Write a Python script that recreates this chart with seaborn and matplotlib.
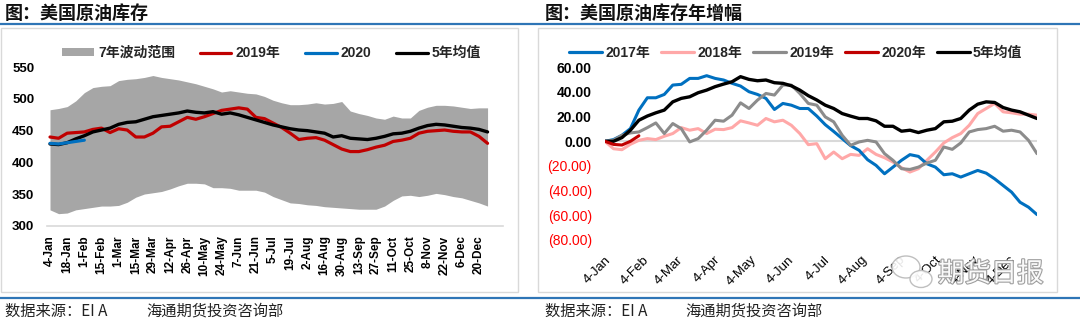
import numpy as np
import pandas as pd
import matplotlib
matplotlib.use("Agg")
import matplotlib.pyplot as plt
import matplotlib.transforms as mtransforms
import matplotlib.patheffects as pe
from matplotlib.patches import Patch, Rectangle, Ellipse
from matplotlib.lines import Line2D
import seaborn as sns

# ---------------- data: left chart (US crude inventory, weekly) ----------------
left_tick_labels = ["4-Jan", "18-Jan", "1-Feb", "15-Feb", "1-Mar", "15-Mar", "29-Mar",
                    "12-Apr", "26-Apr", "10-May", "24-May", "7-Jun", "21-Jun", "5-Jul",
                    "19-Jul", "2-Aug", "16-Aug", "30-Aug", "13-Sep", "27-Sep", "11-Oct",
                    "25-Oct", "8-Nov", "22-Nov", "6-Dec", "20-Dec"]
left_yticks = [300, 350, 400, 450, 500, 550]

band_upper = [483, 485, 488, 497, 510, 518, 520, 521, 529, 531,
              532, 534, 537, 534, 532, 530, 527, 524, 520, 516,
              511, 513, 511, 509, 508, 504, 498, 494, 491, 491,
              492, 494, 492, 493, 496, 481, 477, 474, 470, 468,
              473, 470, 470, 482, 487, 490, 490, 489, 487, 485,
              486, 486]
band_lower = [325, 319, 320, 325, 327, 329, 331, 331, 332, 337,
              345, 350, 352, 354, 358, 363, 367, 367, 366, 360,
              360, 359, 356, 356, 356, 353, 346, 341, 336, 335,
              333, 332, 330, 329, 328, 327, 326, 326, 326, 331,
              340, 347, 348, 346, 348, 351, 349, 346, 344, 340,
              336, 331]
inv_2019 = [440, 438, 446, 447, 448, 452, 454, 447, 453, 451,
            440, 440, 446, 456, 457, 464, 471, 468, 472, 477,
            482, 484, 486, 484, 471, 469, 462, 455, 446, 436,
            438, 439, 435, 428, 421, 417, 417, 420, 424, 427,
            433, 435, 438, 446, 449, 450, 451, 449, 448, 448,
            441, 430]
inv_2020 = [430, 429, 431, 433, 435]
inv_5yr = [429, 428, 431, 437, 442, 448, 451, 454, 460, 463,
           464, 468, 472, 474, 476, 478, 481, 479, 478, 480,
           476, 478, 475, 471, 467, 463, 459, 456, 453, 451,
           450, 448, 446, 440, 442, 438, 437, 436, 438, 441,
           445, 446, 449, 454, 458, 460, 459, 457, 455, 454,
           452, 448]

# ---------------- data: right chart (YoY change of inventory) ----------------
right_tick_labels = ["4-Jan", "4-Feb", "4-Mar", "4-Apr", "4-May", "4-Jun",
                     "4-Jul", "4-Aug", "4-Sep", "4-Oct", "4-Nov", "4-Dec"]
right_tick_days = [0, 31, 59, 90, 120, 151, 181, 212, 243, 273, 304, 334]
right_yticks = [-80, -60, -40, -20, 0, 20, 40, 60]

chg_2017 = [0, 1.4, 4.9, 10.3, 25.3, 35.3, 35.3, 38, 45.6, 46.2,
            51, 51, 53.2, 51, 49.7, 47, 44.8, 40.2, 38, 34.8,
            25.8, 30.7, 29.3, 26.6, 26.6, 20.5, 13.5, 8, 2.2, -3.5,
            -7.3, -14.9, -19.5, -26.3, -20.9, -15.4, -10.8, -12.2, -18.2, -20.9,
            -27.1, -26.3, -29, -26.3, -23.6, -25.8, -30.4, -35.8, -41.2, -49.4,
            -53.4, -59.4]
chg_2018 = [0, -6, -6.8, -2.4, 0.8, 2.2, 1.4, 4.1, 6.3, 11.1,
            9, 10.3, 6.3, 9.8, 9.5, 11.1, 16.6, 14.9, 13, 18.5,
            15.8, 17.1, 13, 6.3, -2.7, -1.9, -14.1, -8.7, -14.1, -10.6,
            -11.4, -6, -10.6, -13.3, -16.8, -21.4, -24.9, -22.2, -15.4, -8.7,
            -1.3, 3, 6.3, 13, 22.5, 26.6, 30.7, 23.9, 23.1, 22,
            22, 21.2]
chg_2019 = [0, 0.8, 4.9, 6.8, 7.6, 11.1, 14.9, 6.3, 14.4, 10.3,
            -0.5, 2.2, 9, 17.1, 16.3, 21.2, 31.2, 26.6, 33.4, 38.8,
            37.5, 45.6, 45.6, 38.8, 30.7, 29.3, 19.8, 15.8, 4.9, -3.2,
            -0.5, 0.8, -0.5, -10, -15.4, -22.2, -22.8, -20.9, -17.6, -15.4,
            -4.6, -6.5, -1.3, 7.6, 9.5, 10.3, 12.2, 8.2, 9, 7.6,
            0.8, -10]
chg_2020 = [0, -2.5, -3, 0, 4.5]
chg_5yr = [0, 0, 3, 9, 17.1, 20.5, 23.1, 25.3, 32, 34.8,
           36.1, 39.4, 41.5, 44.3, 46.4, 48.3, 52.4, 50.2, 49.1, 49.7,
           47.5, 47, 45, 41.5, 37, 33.5, 29.3, 26.6, 22.5, 20.4,
           18.5, 18.5, 16.6, 12.2, 12.2, 8.2, 9, 7.1, 9, 10.3,
           15.8, 16.3, 18.5, 25.3, 30.1, 32, 31.5, 27.4, 25.3, 23.9,
           21.2, 18.5]

# ---------------- style ----------------
sns.set_theme(style="white")
plt.rcParams["font.family"] = ["Liberation Sans", "Noto Sans CJK SC", "DejaVu Sans"]
CJK = ["Noto Sans CJK SC", "Liberation Sans", "DejaVu Sans"]

W, H = 1080, 322
fig = plt.figure(figsize=(W / 100, H / 100), dpi=100)
fig.patch.set_facecolor("white")


def rect(x0, y_top, x1, y_bot):
    return [x0 / W, 1 - y_bot / H, (x1 - x0) / W, (y_bot - y_top) / H]


def fx(x):
    return x / W


def fy(y):
    return 1 - y / H


BLUE = "#0070c0"
RED = "#c00000"
GRIDC = "#d9d9d9"

# ---------------- decorations (frames, rules, titles, footers) ----------------
for x0, x1 in [(1, 517.5), (537.5, 1056.5)]:
    fig.patches.append(Rectangle((fx(x0), fy(292)), (x1 - x0) / W, (292 - 27.5) / H,
                                 transform=fig.transFigure, fill=False,
                                 edgecolor=GRIDC, lw=1.0, zorder=0))
for yy in (23.5, 297.5):
    fig.add_artist(Line2D([0, 1], [fy(yy), fy(yy)], transform=fig.transFigure,
                          color="#2e75b6", lw=1.6))

fig.text(fx(5), fy(13), "图：美国原油库存", fontsize=13, fontweight="bold",
         family=CJK, va="center", ha="left", color="#111111")
fig.text(fx(545), fy(13), "图：美国原油库存年增幅", fontsize=13, fontweight="bold",
         family=CJK, va="center", ha="left", color="#111111")
for x_a, x_b in [(5, 146), (545, 685)]:
    fig.text(fx(x_a), fy(311), "数据来源：EI A", fontsize=11, family=CJK,
             va="center", ha="left", color="#222222")
    fig.text(fx(x_b), fy(311), "海通期货投资咨询部", fontsize=11, family=CJK,
             va="center", ha="left", color="#222222")

# ---------------- left chart ----------------
axL = fig.add_axes(rect(46.7, 67.3, 503, 225.7))
n = len(inv_5yr)
xi = np.arange(n)
axL.fill_between(xi, band_lower, band_upper, color="#a6a6a6", lw=0, zorder=1)
dfL = pd.DataFrame({"x": np.concatenate([xi, xi, np.arange(len(inv_2020))]),
                    "v": inv_2019 + inv_5yr + inv_2020,
                    "s": ["2019年"] * n + ["5年均值"] * n + ["2020"] * len(inv_2020)})
sns.lineplot(data=dfL[dfL.s == "2019年"], x="x", y="v", ax=axL, color=RED,
             lw=2.3, legend=False, zorder=3)
sns.lineplot(data=dfL[dfL.s == "5年均值"], x="x", y="v", ax=axL, color="black",
             lw=2.4, legend=False, zorder=4)
sns.lineplot(data=dfL[dfL.s == "2020"], x="x", y="v", ax=axL, color=BLUE,
             lw=2.3, legend=False, zorder=5)
axL.set_xlim(-0.385, 52.8)
axL.set_ylim(300, 550)
axL.set_xticks(np.arange(0, n, 2))
axL.set_xticklabels(left_tick_labels, rotation=90, fontsize=8.5, fontweight="bold")
axL.set_yticks(left_yticks)
axL.set_yticklabels([str(v) for v in left_yticks], fontsize=9.5, fontweight="bold")
axL.tick_params(axis="x", length=0, pad=7, colors="black")
axL.tick_params(axis="y", length=0, pad=9, colors="black")
axL.set_xlabel("")
axL.set_ylabel("")
for s in ["top", "left", "right"]:
    axL.spines[s].set_visible(False)
axL.spines["bottom"].set_color(GRIDC)
axL.spines["bottom"].set_linewidth(1.2)
axL.set_facecolor("none")
axL.grid(False)

legL = fig.legend(
    handles=[Patch(facecolor="#a6a6a6", edgecolor="none"),
             Line2D([], [], color=RED, lw=2.3),
             Line2D([], [], color=BLUE, lw=2.3),
             Line2D([], [], color="black", lw=2.3)],
    labels=["7年波动范围", "2019年", "2020", "5年均值"],
    loc="center left", bbox_to_anchor=(fx(62), fy(53)), ncol=4, frameon=False,
    prop={"weight": "bold", "size": 10}, handlelength=2.3, handleheight=0.5,
    handletextpad=0.3, columnspacing=1.75, borderaxespad=0, borderpad=0)

# ---------------- right chart ----------------
axR = fig.add_axes(rect(605, 67.3, 1037, 240))
m = len(chg_5yr)
days = np.arange(m) * 7
series = [("2017年", chg_2017, BLUE, 2.2, 2),
          ("2018年", chg_2018, "#ffa8a8", 2.2, 1),
          ("2019年", chg_2019, "#8c8c8c", 2.2, 3),
          ("5年均值", chg_5yr, "black", 2.4, 4),
          ("2020年", chg_2020, RED, 2.2, 5)]
axR.axhline(0, color=GRIDC, lw=1.5, zorder=0)
for name, vals, col, lw, z in series:
    d = pd.DataFrame({"day": days[:len(vals)], "v": vals})
    sns.lineplot(data=d, x="day", y="v", ax=axR, color=col, lw=lw, legend=False,
                 zorder=z)
axR.set_xlim(0, 357)
axR.set_ylim(-80, 60)
axR.set_yticks(right_yticks)
ylabs = []
for v in right_yticks:
    ylabs.append(f"{v:.2f}" if v >= 0 else f"({abs(v):.2f})")
axR.set_yticklabels(ylabs, fontsize=10)
shift = mtransforms.ScaledTranslation(-3.3 / 72, 0, fig.dpi_scale_trans)
for lab, v in zip(axR.get_yticklabels(), right_yticks):
    if v < 0:
        lab.set_color("#ff0000")
    else:
        lab.set_color("black")
        lab.set_fontweight("bold")
        lab.set_transform(lab.get_transform() + shift)
axR.set_xticks(right_tick_days)
axR.set_xticklabels(right_tick_labels, rotation=45, ha="right",
                    rotation_mode="anchor", fontsize=9.5)
axR.tick_params(axis="x", length=0, pad=10, colors="black")
axR.tick_params(axis="y", length=0, pad=9.5)
axR.set_xlabel("")
axR.set_ylabel("")
for s in axR.spines.values():
    s.set_visible(False)
axR.set_facecolor("none")
axR.grid(False)

legR = fig.legend(
    handles=[Line2D([], [], color=BLUE, lw=2.3),
             Line2D([], [], color="#ffa8a8", lw=2.3),
             Line2D([], [], color="#8c8c8c", lw=2.3),
             Line2D([], [], color=RED, lw=2.3),
             Line2D([], [], color="black", lw=2.3)],
    labels=["2017年", "2018年", "2019年", "2020年", "5年均值"],
    loc="center left", bbox_to_anchor=(fx(569), fy(53)), ncol=5, frameon=False,
    prop={"weight": "bold", "size": 10}, handlelength=2.4,
    handletextpad=0.2, columnspacing=0.8, borderaxespad=0, borderpad=0)

# ---------------- watermark ----------------
for (cx, cy, w, h) in [(906, 267, 28, 22), (921, 279, 22, 17)]:
    fig.patches.append(Ellipse((fx(cx), fy(cy)), w / W, h / H, transform=fig.transFigure,
                               facecolor="white", edgecolor="#b8b8b8", lw=1.0,
                               alpha=0.9, zorder=10))
fig.text(fx(938), fy(274), "期货日报", fontsize=19, family=CJK, color="white",
         va="center", ha="left", zorder=11, alpha=0.95,
         path_effects=[pe.withStroke(linewidth=1.6, foreground="#9a9a9a")])

fig.savefig("out.png", dpi=100, facecolor="white")
